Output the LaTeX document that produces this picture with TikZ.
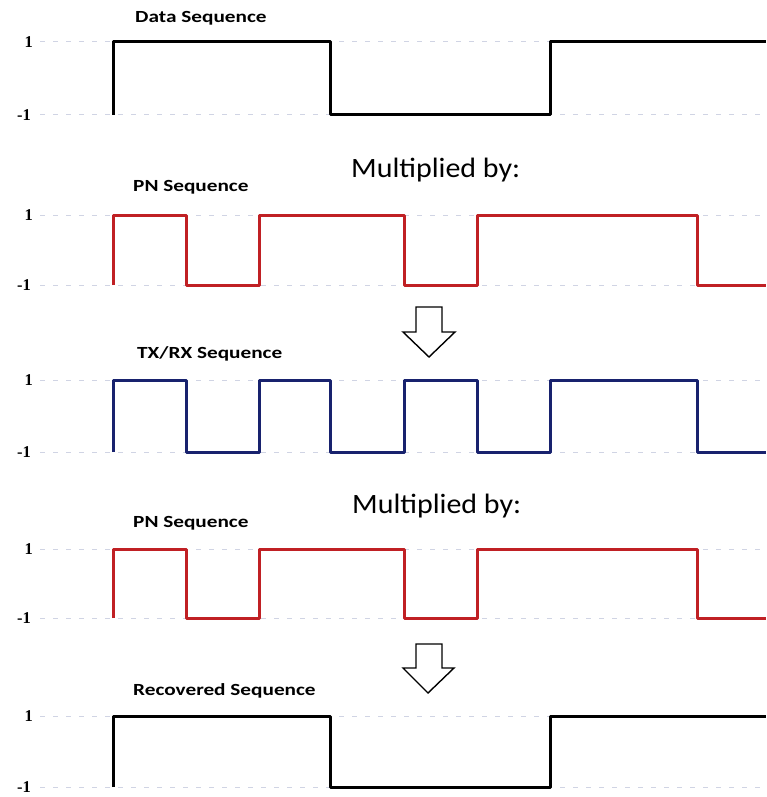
\documentclass[tikz,border=0pt]{standalone}
\usepackage{fontspec}
\setmainfont{Carlito}
\newfontfamily\numfont[UprightFont={* Bold}]{Liberation Serif}
\definecolor{gridc}{RGB}{208,212,228}
\definecolor{pnred}{RGB}{192,32,36}
\definecolor{txblue}{RGB}{24,34,110}
\begin{document}
\begin{tikzpicture}[x=1pt,y=-1pt,
  gridline/.style={draw=gridc, line width=1pt, dash pattern=on 5pt off 8pt},
  wave/.style={line width=3pt, line join=round, line cap=butt},
  redwave/.style={wave, draw=pnred, line width=3pt},
  title/.style={anchor=base west, inner sep=0pt, font=\bfseries\fontsize{17}{20}\selectfont},
  mult/.style={anchor=base west, inner sep=0pt, font=\fontsize{28}{32}\selectfont},
  lvl/.style={anchor=east, inner sep=0pt, font=\numfont\fontsize{16.5}{19}\selectfont},
  downarrow/.style={draw=black, fill=white, line width=1.4pt, line join=miter}]
\useasboundingbox (0,0) rectangle (766,797);

% grid lines
\foreach \yy in {42,115,215,285,380,452,549,618,716,787}
  \draw[gridline] (40,\yy) -- (766,\yy);

% level labels
\foreach \yy in {42,215,380,549,716}
  \node[lvl] at (33,\yy) {1};
\foreach \yy in {115,285,452,618,787}
  \node[lvl] at (31,\yy) {-1};

% titles
\node[title] (t1) at (135,23) {\scalebox{1.25}[1]{Data Sequence}};
\node[title] (t2) at (133,191) {\scalebox{1.25}[1]{PN Sequence}};
\node[title] (t3) at (137,358) {\scalebox{1.25}[1]{TX/RX Sequence}};
\node[title] (t4) at (133,527) {\scalebox{1.25}[1]{PN Sequence}};
\node[title] (t5) at (133,695) {\scalebox{1.25}[1]{Recovered Sequence}};
\node[mult] (m1) at (351,177) {\scalebox{1.07}[1]{Multiplied by:}};
\node[mult] (m2) at (352,513) {\scalebox{1.07}[1]{Multiplied by:}};

% data sequence
\draw[wave, draw=black] (113,115) -- (113,42) -- (330,42) -- (330,115) -- (550,115) -- (550,42) -- (766,42);
% PN sequence 1
\draw[redwave] (113,285) -- (113,215) -- (186,215) -- (186,285) -- (259,285) -- (259,215) -- (404,215) -- (404,285) -- (477,285) -- (477,215) -- (697,215) -- (697,285) -- (766,285);
% TX/RX sequence
\draw[wave, draw=txblue] (113,452) -- (113,380) -- (186,380) -- (186,452) -- (259,452) -- (259,380) -- (330,380) -- (330,452) -- (404,452) -- (404,380) -- (477,380) -- (477,452) -- (550,452) -- (550,380) -- (697,380) -- (697,452) -- (766,452);
% PN sequence 2
\draw[redwave] (113,618) -- (113,549) -- (186,549) -- (186,618) -- (259,618) -- (259,549) -- (404,549) -- (404,618) -- (477,618) -- (477,549) -- (697,549) -- (697,618) -- (766,618);
% recovered sequence
\draw[wave, draw=black] (113,787) -- (113,716) -- (330,716) -- (330,787) -- (550,787) -- (550,716) -- (766,716);

% arrows
\draw[downarrow] (416,307) -- (442,307) -- (442,332) -- (455,332) -- (429,357) -- (403,332) -- (416,332) -- cycle;
\draw[downarrow] (416,644) -- (442,644) -- (442,668) -- (454,668) -- (428,693) -- (403,668) -- (416,668) -- cycle;
\end{tikzpicture}
\end{document}
